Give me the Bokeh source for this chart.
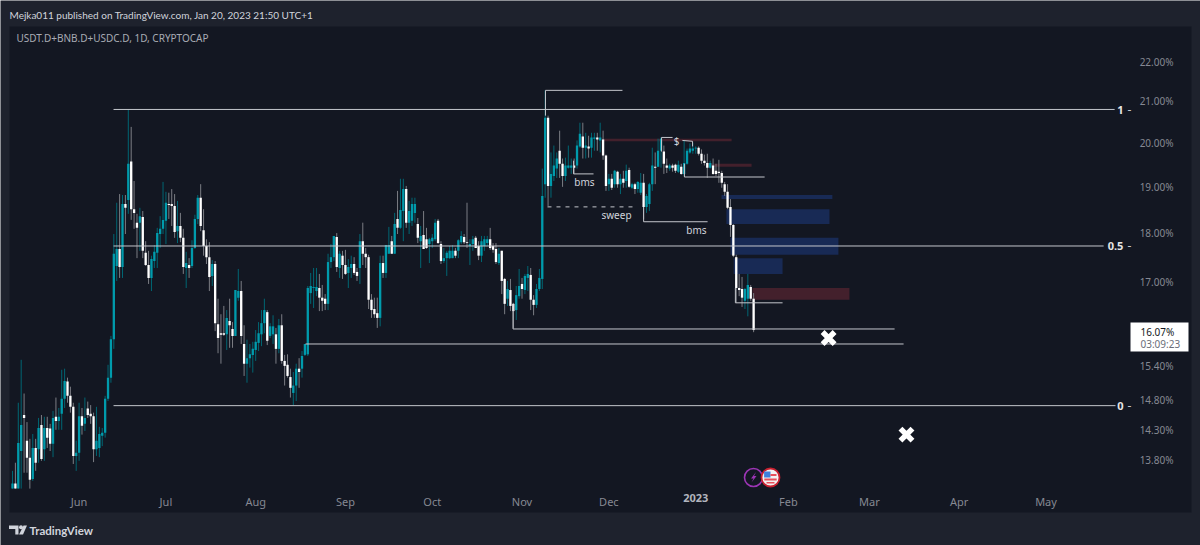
import math
import pandas as pd
from bokeh.embed import file_html
from bokeh.resources import INLINE
from bokeh.plotting import figure
from bokeh.models import ColumnDataSource, FixedTicker, PrintfTickFormatter, Label, LinearAxis, Range1d

first_bar = "2022-05-09"

opens = [
13.35,13.43,13.35,13.95,14.55,14.12,13.84,13.50,14.00,13.98,
14.38,13.98,14.33,14.32,14.07,14.52,14.45,14.57,14.83,15.13,
14.88,14.69,13.87,13.92,14.53,14.40,14.66,14.57,14.53,13.98,
14.00,14.20,14.25,14.83,15.20,15.90,17.32,17.67,17.30,18.62,
18.71,19.57,18.51,18.22,18.22,18.34,17.59,17.34,17.08,17.42,
17.59,17.98,18.09,18.26,18.62,18.62,18.58,18.04,18.15,17.90,
17.28,17.34,17.32,17.69,18.30,18.76,18.06,17.73,17.50,17.12,
17.36,16.18,16.01,16.01,15.99,16.24,16.09,15.96,16.69,16.82,
15.81,15.45,15.55,15.61,15.70,15.83,15.99,16.20,16.41,15.96,
15.99,15.99,15.72,16.16,15.50,15.43,15.21,14.93,15.06,15.36,
15.36,15.61,15.62,16.78,16.88,16.82,16.88,16.69,16.67,16.57,
17.40,17.50,17.92,17.28,17.53,17.34,17.18,17.28,17.36,17.20,
17.28,17.83,17.57,17.50,16.65,16.47,16.39,16.30,17.38,17.18,
17.57,17.83,17.57,18.30,18.11,18.47,18.95,18.22,18.26,18.43,
18.19,17.83,17.96,17.87,17.77,17.83,17.87,18.26,17.77,17.42,
17.48,17.48,17.48,17.63,17.63,17.81,17.92,17.81,17.73,17.77,
17.90,17.73,17.53,17.73,17.79,17.87,17.73,17.67,17.38,17.63,
17.06,16.67,16.84,16.57,16.45,16.72,16.96,16.84,17.08,17.14,
16.65,16.55,16.86,17.06,19.06,20.60,19.02,19.24,19.41,19.82,
19.52,19.24,19.43,19.43,19.48,19.48,19.92,20.15,19.89,19.92,
19.89,20.10,20.13,20.06,20.08,19.71,19.06,19.18,19.06,19.34,
19.06,19.18,19.13,19.38,18.98,19.06,18.95,18.87,19.09,18.56,
18.62,19.06,19.45,19.45,19.82,19.80,19.48,19.41,19.48,19.50,
19.34,19.45,19.29,19.52,19.78,19.82,19.87,19.89,19.75,19.59,
19.54,19.43,19.48,19.36,19.34,19.31,19.06,18.89,18.56,18.17,
17.50,16.88,16.86,16.63,16.67,16.90,16.67]

closes = [
13.43,13.35,14.08,14.38,14.50,13.84,13.49,14.00,13.76,14.33,
13.82,14.33,14.17,14.07,14.50,14.45,14.52,14.83,15.14,14.88,
14.69,13.87,13.92,14.53,14.37,14.50,14.55,14.53,13.98,14.12,
14.23,14.25,14.83,15.20,15.90,17.57,17.67,17.30,18.62,18.54,
19.52,18.51,18.43,18.11,18.36,17.63,17.34,17.08,17.46,17.61,
18.00,18.09,18.28,18.65,18.60,18.58,18.02,18.15,17.90,17.30,
17.38,17.28,17.69,18.30,18.76,18.15,17.73,17.50,17.10,17.36,
16.20,15.92,15.98,15.98,16.30,16.16,15.96,16.84,16.82,15.96,
15.45,15.55,15.62,15.72,15.85,16.01,16.20,16.45,15.87,16.14,
16.14,15.72,16.16,15.50,15.41,15.23,15.02,15.06,15.36,15.30,
15.59,15.81,16.88,16.92,16.90,16.90,16.69,16.63,16.57,17.40,
17.50,17.94,17.30,17.57,17.34,17.16,17.30,17.36,17.18,17.12,
17.83,17.57,17.50,16.65,16.45,16.37,16.30,17.38,17.18,17.75,
17.75,17.57,18.19,18.11,18.49,18.95,18.22,18.47,18.62,18.62,
17.90,17.94,17.67,17.69,17.87,17.90,18.22,17.79,17.42,17.48,
17.59,17.63,17.63,17.53,17.85,17.94,17.81,17.79,17.77,17.87,
17.69,17.53,17.83,17.87,17.87,17.69,17.65,17.40,17.57,17.02,
16.57,16.86,16.53,16.43,16.74,16.92,16.86,17.12,17.16,16.65,
16.55,16.86,17.08,18.80,20.60,19.02,19.29,19.48,19.64,19.52,
19.24,19.48,19.48,19.48,19.43,19.94,20.22,19.89,19.94,19.87,
20.13,20.13,20.08,20.13,19.71,19.02,19.18,18.98,19.36,19.06,
19.18,19.09,19.36,19.00,19.06,18.95,19.11,19.09,18.56,18.80,
19.06,19.48,19.43,19.82,20.10,19.52,19.43,19.48,19.43,19.36,
19.50,19.29,19.54,19.82,19.87,19.87,19.89,19.75,19.59,19.54,
19.43,19.54,19.29,19.29,19.31,19.09,18.89,18.54,18.17,17.53,
16.88,16.84,16.69,16.86,16.94,16.67,16.07]

highs = [
13.63,13.76,14.76,15.52,14.92,14.43,14.15,14.23,14.15,14.50,
14.55,14.52,14.52,14.40,14.62,14.85,14.67,15.34,15.36,15.20,
15.04,14.76,14.12,14.76,14.67,14.85,14.78,14.72,14.59,14.69,
14.35,14.33,14.88,15.43,15.96,17.98,18.65,18.84,18.82,18.82,
20.80,20.38,19.13,18.41,18.54,18.47,17.83,17.63,17.53,17.75,
18.11,18.36,19.11,18.89,18.87,18.95,18.84,18.69,18.43,18.09,
17.61,17.48,17.85,18.39,18.82,19.06,18.51,17.87,17.81,17.44,
17.42,16.67,16.37,16.53,16.45,16.67,16.22,16.84,17.26,17.02,
16.16,15.89,15.81,15.85,16.07,16.22,16.45,16.67,16.45,16.20,
16.35,16.11,16.28,16.37,15.61,15.62,15.36,15.30,15.45,15.55,
15.68,15.81,16.92,17.18,17.28,17.28,17.16,16.94,16.76,17.57,
17.77,17.94,18.00,17.63,17.63,17.65,17.46,17.53,17.50,17.28,
17.98,18.22,17.69,17.55,16.76,16.69,16.69,17.53,17.53,17.75,
18.13,17.94,18.43,18.91,19.18,19.18,19.02,18.69,18.76,18.76,
18.32,18.15,18.47,18.11,17.90,17.98,18.30,18.30,17.83,17.69,
17.63,17.73,17.75,17.69,17.87,18.04,17.98,18.65,17.87,17.94,
17.94,17.83,17.94,17.94,17.94,18.11,17.79,17.79,17.69,17.63,
17.08,17.02,17.06,16.59,16.92,17.26,17.08,17.16,17.32,17.28,
16.74,16.96,17.26,19.41,21.27,20.65,19.78,19.94,19.78,20.29,
19.64,19.66,19.94,19.64,19.64,20.06,20.48,20.48,20.24,20.17,
20.24,20.24,20.24,20.48,20.29,19.73,19.29,19.29,19.38,19.36,
19.29,19.36,19.50,19.43,19.09,19.09,19.13,19.31,19.29,18.84,
19.09,19.89,19.78,20.10,20.13,19.94,19.64,19.52,19.52,19.52,
19.59,19.52,20.06,19.87,19.99,20.01,19.92,19.92,19.85,19.73,
19.75,19.59,19.64,19.52,19.61,19.36,19.11,19.06,18.73,18.19,
17.55,17.16,17.10,16.88,17.16,16.94,16.78]

lows = [
13.35,13.35,13.35,13.35,13.60,13.60,13.35,13.47,13.63,13.76,
13.79,13.79,14.00,13.95,13.85,14.30,14.30,14.30,14.67,14.76,
14.59,13.74,13.63,13.79,14.22,14.28,14.50,14.40,13.77,13.87,
13.85,14.03,14.17,14.79,15.11,15.72,17.02,17.08,17.08,17.98,
18.41,18.28,18.09,17.48,17.63,17.48,17.32,16.96,16.82,17.28,
17.28,17.69,17.98,17.77,18.30,18.15,17.90,17.79,17.81,17.16,
16.88,17.08,17.28,17.67,18.19,18.04,17.53,17.36,16.82,16.92,
16.05,15.64,15.45,15.96,15.70,15.74,15.74,15.96,16.63,15.81,
15.23,15.11,15.38,15.29,15.50,15.68,15.77,16.01,15.79,15.92,
15.81,15.45,15.64,15.45,15.06,15.20,14.85,14.72,14.79,15.02,
15.20,15.59,15.59,16.57,16.49,16.72,16.43,16.43,16.45,16.45,
17.28,17.42,17.20,17.08,17.06,17.14,16.88,17.08,17.14,17.02,
16.96,17.34,17.28,16.47,16.30,16.30,16.11,16.14,17.08,17.08,
17.57,17.57,17.57,17.98,18.09,17.83,18.11,17.98,18.15,18.22,
17.79,17.28,17.67,17.67,17.38,17.69,17.83,17.77,17.36,17.38,
17.12,17.46,17.48,17.48,17.48,17.77,17.77,17.69,17.34,17.63,
17.69,17.44,17.40,17.63,17.73,17.65,17.59,17.36,17.34,16.76,
16.37,16.53,16.43,16.11,16.26,16.67,16.67,16.76,16.82,16.45,
16.35,16.49,16.82,16.86,18.76,18.58,18.76,19.13,19.20,19.20,
19.00,19.13,19.41,19.29,19.29,19.41,19.89,19.64,19.64,19.66,
19.66,19.82,19.82,19.78,19.61,18.91,18.91,18.93,18.98,18.98,
18.84,18.98,18.98,18.98,18.95,18.84,18.87,18.82,18.30,18.43,
18.47,18.91,19.06,19.45,19.43,19.29,19.31,19.36,19.34,19.31,
19.31,19.27,19.24,19.50,19.75,19.75,19.75,19.71,19.52,19.48,
19.20,19.41,19.27,19.24,19.09,18.98,18.80,18.51,17.92,17.50,
16.59,16.72,16.51,16.47,16.33,16.63,16.03]

price_ticks = [22.00, 21.00, 20.00, 19.00, 18.00, 17.00, 15.40, 14.80, 14.30, 13.80]
month_dates = ["2022-06-01","2022-07-01","2022-08-01","2022-09-01","2022-10-01","2022-11-01",
               "2022-12-01","2023-02-01","2023-03-01","2023-04-01","2023-05-01"]
month_labels = ["Jun","Jul","Aug","Sep","Oct","Nov","Dec","Feb","Mar","Apr","May"]
year_date = "2022-12-31"
year_label = "2023"

# drawings: bar offsets from first_bar and prices
line_x0 = [34.9,34.9,34.9,184.1,184.1,193.8,193.8,218.0,218.0,224.2,224.2,231.4,234.9,232.1,232.1,249.7,249.7,172.9,172.9,101.2]
line_x1 = [380.7,376.9,381.0,210.7,184.1,200.7,193.8,240.1,218.0,228.0,224.2,234.9,234.9,259.8,232.1,266.0,249.7,304.7,172.9,307.8]
line_y0 = [20.80,17.73,14.71,21.27,21.27,19.29,19.59,18.24,18.56,20.13,20.13,20.06,20.04,19.22,19.52,16.59,16.88,16.09,16.57,15.81]
line_y1 = [20.80,17.73,14.71,21.27,20.65,19.29,19.29,18.24,18.24,20.13,19.80,20.04,19.92,19.22,19.22,16.59,16.59,16.09,16.09,15.81]
sweep_x = [184.8, 214.2]
sweep_y = [18.56, 18.56]
red_left = [203.8, 241.1, 255.6]
red_right = [248.4, 255.3, 289.1]
red_top = [20.10, 19.52, 16.88]
red_bottom = [20.04, 19.45, 16.65]
blue_left = [244.9, 246.6, 248.0, 249.1]
blue_right = [283.2, 282.2, 285.3, 266.0]
blue_top = [18.82, 18.51, 17.90, 17.48]
blue_bottom = [18.73, 18.19, 17.55, 17.16]
cross_x = [281.9, 308.8]
cross_y = [15.92, 14.22]

DAY = 86400000.0
t0 = pd.Timestamp(first_bar).value / 1e6
BAR_PX = 2.895

def bx(i):
    return t0 + i * DAY

def px(x):
    return bx((x - 12) / BAR_PX)

def py(y):
    return 22.0 * math.exp(-(y - 61) / 855.0)

def ms(d):
    return pd.Timestamp(d).value / 1e6

BG = "#131722"
FRAME = "#1e222d"
p = figure(width=1200, height=545, output_backend="svg", toolbar_location=None,
           y_axis_type="log", x_range=Range1d(px(0), px(1200)), y_range=Range1d(py(545), py(0)),
           min_border=0, background_fill_color=FRAME, border_fill_color=FRAME, outline_line_color=None)
p.grid.visible = False

# Chart pane
p.quad(left=[px(9)], right=[px(1191)], top=[py(26)], bottom=[py(512)], fill_color=BG, line_color=None)

# Axes live inside the pane, as on a TradingView chart
ya = p.yaxis[0]
ya.ticker = FixedTicker(ticks=price_ticks)
ya.formatter = PrintfTickFormatter(format="%.2f%%")
ya.fixed_location = px(1173)
ya.major_label_standoff = 0
ya.major_label_text_font = "Noto Sans"
ya.major_label_text_font_size = "10px"
ya.major_label_text_color = "#868993"
ya.axis_line_color = None
ya.major_tick_line_color = None
ya.minor_tick_line_color = None
ya.major_tick_out = 0
ya.major_tick_in = 0
ya.minor_tick_out = 0
ya.minor_tick_in = 0

xa = p.xaxis[0]
month_ms = [ms(d) for d in month_dates]
xa.ticker = FixedTicker(ticks=month_ms)
xa.major_label_overrides = {m: l for m, l in zip(month_ms, month_labels)}
xa.fixed_location = py(490)
xa.major_label_standoff = 3
xa.major_label_text_font = "Noto Sans"
xa.major_label_text_font_size = "11px"
xa.major_label_text_color = "#868993"
xa.axis_line_color = None
xa.major_tick_line_color = None
xa.minor_tick_line_color = None
xa.major_tick_out = 0
xa.major_tick_in = 0
xa.minor_tick_out = 0
xa.minor_tick_in = 0

yr = LinearAxis(ticker=FixedTicker(ticks=[ms(year_date)]), fixed_location=py(490),
                major_label_overrides={ms(year_date): year_label}, major_label_standoff=3,
                major_label_text_font="Noto Sans", major_label_text_font_size="11px",
                major_label_text_font_style="bold", major_label_text_color="#b2b5be",
                axis_line_color=None, major_tick_line_color=None, minor_tick_line_color=None,
                major_tick_out=0, major_tick_in=0, minor_tick_out=0, minor_tick_in=0)
p.add_layout(yr, "below")

# Zones beneath the candles
p.quad(left=[bx(v) for v in blue_left], right=[bx(v) for v in blue_right], top=blue_top, bottom=blue_bottom,
       fill_color="#182a55", line_color=None)
p.quad(left=[bx(v) for v in red_left], right=[bx(v) for v in red_right], top=red_top, bottom=red_bottom,
       fill_color="#43202c", line_color=None)

# Candles
n = len(opens)
xs = [bx(i) for i in range(n)]
up = [c >= o for o, c in zip(opens, closes)]
src = ColumnDataSource(dict(
    x=xs, high=highs, low=lows,
    top=[max(o, c) for o, c in zip(opens, closes)],
    bottom=[min(o, c) for o, c in zip(opens, closes)],
    wick=["#006673" if u else "#7b7d84" for u in up],
    body=["#009bac" if u else "#ffffff" for u in up],
))
p.segment(x0="x", x1="x", y0="low", y1="high", line_color="wick", line_width=1, source=src)
p.vbar(x="x", width=0.8 * DAY, top="top", bottom="bottom", fill_color="body", line_color=None, source=src)

# Drawn lines
p.segment(x0=[bx(v) for v in line_x0], x1=[bx(v) for v in line_x1], y0=line_y0, y1=line_y1,
          line_color="#c4c6cc", line_width=1)
p.line([bx(v) for v in sweep_x], sweep_y, line_color="#c4c6cc", line_width=1, line_dash=[4, 5])

# Crosses
p.scatter([bx(v) for v in cross_x], cross_y, marker="x", size=17, line_color="#ffffff", line_width=5.5)

# Price tag
p.quad(left=[px(1130)], right=[px(1188)], top=[py(322)], bottom=[py(351)], fill_color="#ffffff", line_color=None)

# Event badges
p.scatter([px(753)], [py(477)], marker="circle", size=18, fill_color=BG, line_color="#9c35b5", line_width=1.6)
p.patch([px(v) for v in (755.5, 750.5, 753, 751, 756, 753.5)], [py(v) for v in (471.5, 478, 478, 482, 475.5, 475.5)],
        fill_color="#9c35b5", line_color=None)
p.scatter([px(770)], [py(477)], marker="circle", size=18, fill_color="#f2f2f2", line_color="#c8202f", line_width=1.8)
p.quad(left=[px(v) for v in (763.6, 770, 763.8, 766)], right=[px(v) for v in (770, 776, 776.2, 774)],
       top=[py(v) for v in (471, 473.5, 478, 481.5)], bottom=[py(v) for v in (477, 475.5, 480, 483)],
       fill_color=["#3f7fdc", "#e8505b", "#e8505b", "#e8505b"], line_color=None)

# TradingView mark
p.patch([px(v) for v in (8.5, 18, 18, 14.8, 14.8, 8.5)], [py(v) for v in (525, 525, 534, 534, 528.5, 528.5)],
        fill_color="#d1d4dc", line_color=None)
p.patch([px(v) for v in (23, 26.5, 22.5, 18.6)], [py(v) for v in (525, 525, 534, 534)],
        fill_color="#d1d4dc", line_color=None)
p.scatter([px(20.5)], [py(526.8)], marker="circle", size=4, fill_color="#d1d4dc", line_color=None)

def label(text, x, y, size, color, align="left", style="normal", font="Noto Sans"):
    p.add_layout(Label(x=px(x), y=py(y), text=text, text_font=font, text_font_size=size, text_color=color,
                       text_align=align, text_baseline="middle", text_font_style=style))

label("Mejka011 published on TradingView.com, Jan 20, 2023 21:50 UTC+1", 9, 14, "10px", "#d1d4dc", font="Lato")
label("USDT.D+BNB.D+USDC.D, 1D, CRYPTOCAP", 16, 37, "10px", "#a8abb4")
label("bms", 584, 181, "10px", "#d1d4dc", "center")
label("sweep", 616, 214, "10px", "#d1d4dc", "center")
label("bms", 696, 229, "10px", "#d1d4dc", "center")
label("$", 676, 140, "10px", "#d1d4dc", "center")
label("1", 1120, 109, "11px", "#e6e6e6", "center", "bold")
label("0.5", 1115, 245, "11px", "#e6e6e6", "center", "bold")
label("0", 1120, 405, "11px", "#e6e6e6", "center", "bold")
label("-", 1129, 109, "12px", "#c4c6cc", "center")
label("-", 1129, 245, "12px", "#c4c6cc", "center")
label("-", 1129, 405, "12px", "#c4c6cc", "center")
label("16.07%", 1140, 331, "10px", "#131722")
label("03:09:23", 1140, 343, "10px", "#6a6d78")
label("TradingView", 29, 530, "11.5px", "#d1d4dc", font="Lato", style="bold")

open("out.html", "w").write(file_html(p, INLINE))
